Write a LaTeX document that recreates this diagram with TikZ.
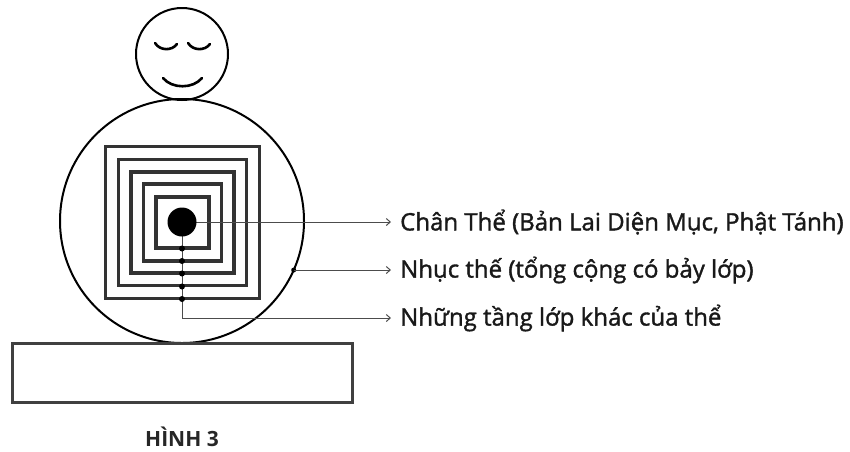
\documentclass[tikz,border=0pt]{standalone}
\usepackage{fontspec}
\setmainfont{Open Sans}
\newfontfamily\labelfont[FakeBold=1.5]{Open Sans}
\usetikzlibrary{arrows.meta}
\begin{document}
\begin{tikzpicture}[x=1pt,y=-1pt,
  outline/.style={draw=black, line width=2pt},
  layer/.style={draw=black!80, line width=3.4pt, rectangle, inner sep=0pt},
  knot/.style={circle, fill=black, inner sep=0pt, minimum size=6pt},
  lead/.style={draw=black!70, line width=1pt, -{Straight Barb[length=4pt,width=7pt]}},
  caption/.style={anchor=west, inner xsep=9pt, inner ysep=0pt, font=\labelfont\fontsize{24}{26}\selectfont, text=black!90}
]
\useasboundingbox (0,0) rectangle (850,451);

% head with closed eyes and smile
\node[outline, circle, minimum size=92pt, inner sep=0pt] (head) at (182,54) {};
\draw[line width=2.6pt, line cap=round] (155,43) .. controls (160,51) and (172,51) .. (177,44);
\draw[line width=2.6pt, line cap=round] (188,43) .. controls (193,51) and (205,51) .. (210,44);
\draw[line width=2.6pt, line cap=round] (163,78) .. controls (172,89) and (193,89) .. (202,78);

% body
\node[outline, circle, minimum size=244pt, inner sep=0pt] (body) at (182,221) {};

% nested layers
\node[layer, minimum width=154pt, minimum height=152pt] (sq1) at (182.5,222.5) {};
\node[layer, minimum width=128pt, minimum height=126pt] (sq2) at (182.5,222.5) {};
\node[layer, minimum width=103pt, minimum height=101pt] (sq3) at (182.5,222.5) {};
\node[layer, minimum width=78pt, minimum height=77pt] (sq4) at (182.5,222.5) {};
\node[layer, minimum width=53pt, minimum height=51pt] (sq5) at (182.5,222.5) {};

% pedestal
\node[draw=black!75, line width=3pt, rectangle, minimum width=340pt, minimum height=59pt, inner sep=0pt] (base) at (182,372.5) {};

% labels
\node[caption] (lab1) at (391,222) {Chân Thể (Bản Lai Diện Mục, Phật Tánh)};
\node[caption] (lab2) at (391,270) {Nhục thế (tổng cộng có bảy lớp)};
\node[caption] (lab3) at (391,318) {Những tầng lớp khác của thể};

% true self and its connectors
\coordinate (corec) at (182,222);
\draw[lead] (corec) -- (lab1.west);
\draw[lead] (corec) |- (lab3.west);
\node[circle, fill=black, inner sep=0pt, minimum size=29pt] (core) at (corec) {};
\node[knot] (k5) at (182,248.5) {};
\node[knot] (k4) at (182,261) {};
\node[knot] (k3) at (182,273.5) {};
\node[knot] (k2) at (182,286.5) {};
\node[knot] (k1) at (182,299) {};

% flesh body connector
\node[knot, minimum size=5pt] (rimdot) at (293.7,270) {};
\draw[lead] (rimdot.center) -- (lab2.west);

% figure caption
\node[anchor=base, font=\fontsize{21}{22}\selectfont\bfseries, text=black!85, inner sep=0pt] (fig) at (182,446) {HÌNH 3};
\end{tikzpicture}
\end{document}
